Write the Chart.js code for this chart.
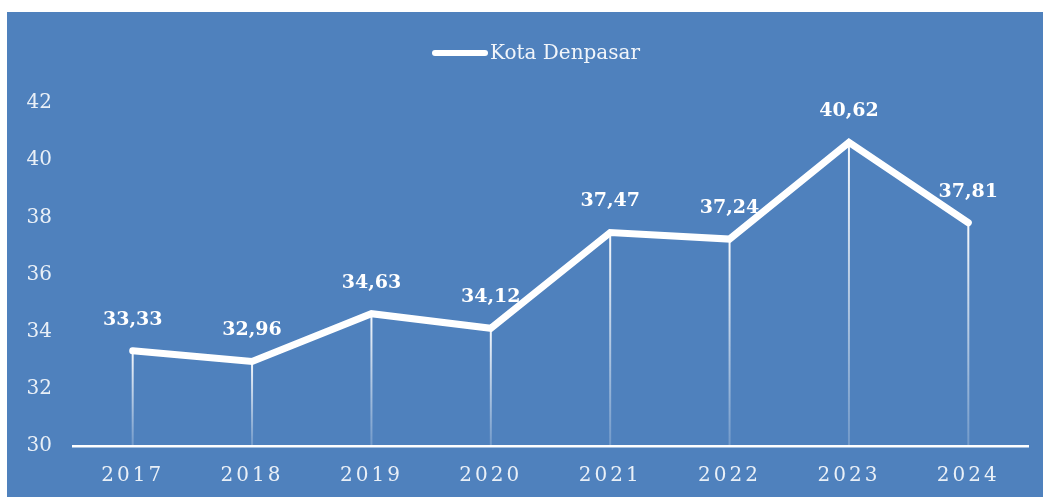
<!DOCTYPE html>
<html>
<head>
<meta charset="utf-8">
<script src="https://cdn.jsdelivr.net/npm/chart.js@4.4.0/dist/chart.umd.min.js"></script>
<style>
  html, body { margin: 0; padding: 0; background: #fff; }
  #wrap {
    position: absolute;
    left: 7px; top: 12px;
    width: 1036px; height: 485px;
    background: #4f81bd;
  }
</style>
</head>
<body>
<div id="wrap"><canvas id="chart" width="1036" height="485"></canvas></div>
<script>
// Kota Denpasar, yearly values
const years = ['2017', '2018', '2019', '2020', '2021', '2022', '2023', '2024'];
const denpasar = [33.33, 32.96, 34.63, 34.12, 37.47, 37.24, 40.62, 37.81];
const yTicks = [30, 32, 34, 36, 38, 40, 42];
const seriesName = 'Kota Denpasar';

const SERIF = '"DejaVu Serif", "Liberation Serif", serif';

// vertical drop lines from each point down to the axis
const dropLines = {
  id: 'dropLines',
  beforeDatasetsDraw(chart) {
    const { ctx, chartArea } = chart;
    const meta = chart.getDatasetMeta(0);
    ctx.save();
    meta.data.forEach(pt => {
      const g = ctx.createLinearGradient(0, pt.y, 0, chartArea.bottom);
      g.addColorStop(0, 'rgba(255,255,255,0.95)');
      g.addColorStop(1, 'rgba(255,255,255,0.2)');
      ctx.strokeStyle = g;
      ctx.lineWidth = 2;
      ctx.beginPath();
      ctx.moveTo(pt.x, pt.y);
      ctx.lineTo(pt.x, chartArea.bottom);
      ctx.stroke();
    });
    ctx.restore();
  }
};

// value labels above the points
const valueLabels = {
  id: 'valueLabels',
  afterDatasetsDraw(chart) {
    const { ctx } = chart;
    const meta = chart.getDatasetMeta(0);
    const values = chart.data.datasets[0].data;
    ctx.save();
    ctx.font = 'bold 19px ' + SERIF;
    ctx.fillStyle = '#ffffff';
    ctx.textAlign = 'center';
    ctx.textBaseline = 'middle';
    meta.data.forEach((pt, i) => {
      const txt = values[i].toFixed(2).replace('.', ',');
      ctx.fillText(txt, pt.x, pt.y - 31);
    });
    ctx.restore();
  }
};

// legend: thick line sample followed by the series name
const lineLegend = {
  id: 'lineLegend',
  afterDraw(chart) {
    const { ctx } = chart;
    const y = 41;
    ctx.save();
    ctx.strokeStyle = '#ffffff';
    ctx.lineWidth = 6;
    ctx.lineCap = 'round';
    ctx.beginPath();
    ctx.moveTo(428, y);
    ctx.lineTo(478, y);
    ctx.stroke();
    ctx.font = '20px ' + SERIF;
    ctx.fillStyle = 'rgba(255,255,255,0.92)';
    ctx.textAlign = 'left';
    ctx.textBaseline = 'middle';
    ctx.fillText(chart.data.datasets[0].label, 483, y + 1);
    ctx.restore();
  }
};

// spaced-out year labels on the x axis
const spacedYears = {
  id: 'spacedYears',
  afterUpdate(chart) {
    const x = chart.scales.x;
    if (!x || x._spaced) return;
    const orig = x.drawLabels;
    x.drawLabels = function (area) {
      const c = this.ctx;
      c.save();
      c.letterSpacing = '3px';
      orig.call(this, area);
      c.restore();
    };
    x._spaced = true;
  }
};

const chart = new Chart(document.getElementById('chart'), {
  type: 'line',
  data: {
    labels: years,
    datasets: [{
      label: seriesName,
      data: denpasar,
      borderColor: '#ffffff',
      borderWidth: 7,
      borderCapStyle: 'round',
      borderJoinStyle: 'miter',
      pointRadius: 0,
      pointHoverRadius: 0,
      tension: 0,
      fill: false
    }]
  },
  options: {
    responsive: false,
    animation: false,
    layout: { padding: { top: 91, right: 15, bottom: 0, left: 0 } },
    plugins: {
      legend: { display: false },
      tooltip: { enabled: false }
    },
    scales: {
      x: {
        offset: true,
        grid: { display: false, drawTicks: false },
        border: { display: true, color: '#ffffff', width: 2.5 },
        ticks: {
          color: 'rgba(255,255,255,0.88)',
          font: { family: SERIF, size: 20 },
          padding: 18,
          maxRotation: 0
        },
        afterFit(s) { s.height = 51; }
      },
      y: {
        min: yTicks[0],
        max: yTicks[yTicks.length - 1],
        grid: { display: false, drawTicks: false },
        border: { display: false },
        afterBuildTicks(s) { s.ticks = yTicks.map(v => ({ value: v })); },
        ticks: {
          color: 'rgba(255,255,255,0.88)',
          font: { family: SERIF, size: 20 },
          padding: 21
        },
        afterFit(s) { s.width = 66; }
      }
    }
  },
  plugins: [dropLines, valueLabels, lineLegend, spacedYears]
});
chart.draw();
</script>
</body>
</html>
